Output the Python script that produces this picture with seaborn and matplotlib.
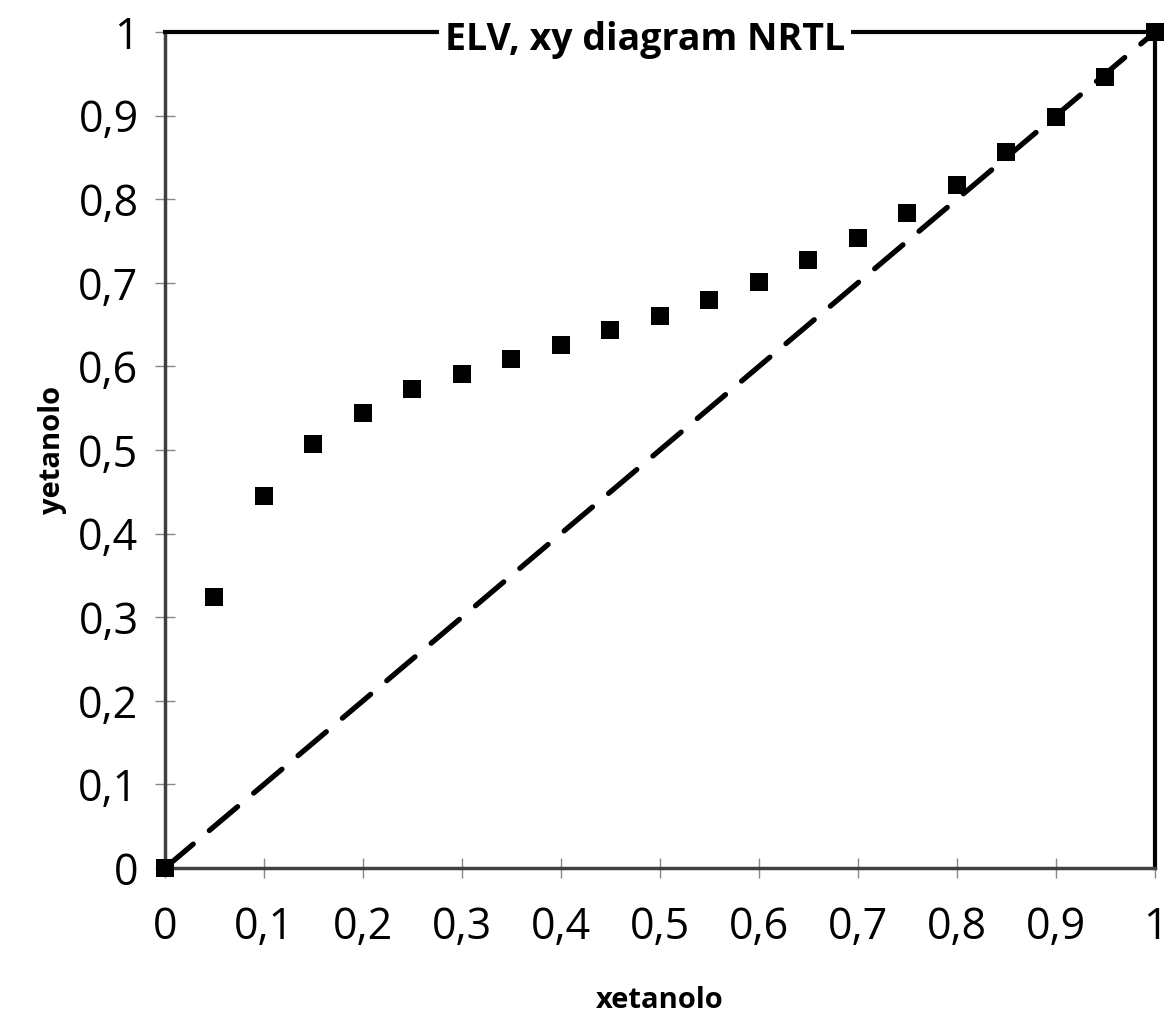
import numpy as np
import pandas as pd
import matplotlib
matplotlib.use("Agg")
import matplotlib.pyplot as plt
import seaborn as sns
from matplotlib.ticker import FuncFormatter, MultipleLocator

x_etanolo = [0, 0.05, 0.1, 0.15, 0.2, 0.25, 0.3, 0.35, 0.4, 0.45, 0.5,
             0.55, 0.6, 0.65, 0.7, 0.75, 0.8, 0.85, 0.9, 0.95, 1.0]
y_etanolo = [0, 0.324, 0.445, 0.507, 0.544, 0.573, 0.591, 0.609, 0.626, 0.644, 0.660,
             0.679, 0.701, 0.727, 0.754, 0.783, 0.817, 0.856, 0.898, 0.946, 1.0]
x_diag = [0, 1]
y_diag = [0, 1]

sns.set_style("white")
plt.rcParams['font.family'] = ['Open Sans', 'DejaVu Sans']
plt.rcParams['text.color'] = 'black'
plt.rcParams['axes.labelcolor'] = 'black'

fig = plt.figure(figsize=(11.71, 10.16), dpi=100)
ax = fig.add_axes([0.1409, 0.1457, 0.8454, 0.8228])

df_diag = pd.DataFrame({"x": x_diag, "y": y_diag})
sns.lineplot(data=df_diag, x="x", y="y", ax=ax, color="black", linewidth=3.8,
             dashes=False, zorder=2)
ax.lines[-1].set_dashes([7, 4])
ax.lines[-1].set_dash_capstyle("round")

df = pd.DataFrame({"x": x_etanolo, "y": y_etanolo})
sns.scatterplot(data=df, x="x", y="y", ax=ax, marker="s", s=150, color="black",
                edgecolor="black", linewidth=0, zorder=3, clip_on=False)

ax.set_xlim(0, 1)
ax.set_ylim(0, 1)
ax.xaxis.set_major_locator(MultipleLocator(0.1))
ax.yaxis.set_major_locator(MultipleLocator(0.1))
fmt = FuncFormatter(lambda v, p: ("%g" % round(v, 1)).replace(".", ","))
ax.xaxis.set_major_formatter(fmt)
ax.yaxis.set_major_formatter(fmt)
ax.tick_params(axis="both", labelsize=31, labelcolor="black", direction="inout",
               length=14, width=1, color="#888888", pad=12)
ax.tick_params(axis="x", bottom=True, pad=20)
ax.tick_params(axis="y", left=True)

for s in ["left", "bottom"]:
    ax.spines[s].set_color("#404040")
    ax.spines[s].set_linewidth(2.5)
for s in ["top", "right"]:
    ax.spines[s].set_color("black")
    ax.spines[s].set_linewidth(3)

ax.set_xlabel("xetanolo", fontsize=21, fontweight="bold", labelpad=26)
ax.set_ylabel("yetanolo", fontsize=21, fontweight="bold", labelpad=8)

ax.text(0.485, 0.99, "ELV, xy diagram NRTL", transform=ax.transAxes, ha="center",
        va="center", fontsize=27, fontweight="bold", color="black",
        bbox=dict(facecolor="white", edgecolor="none", pad=4), zorder=5)

fig.savefig("out.png", dpi=100)
